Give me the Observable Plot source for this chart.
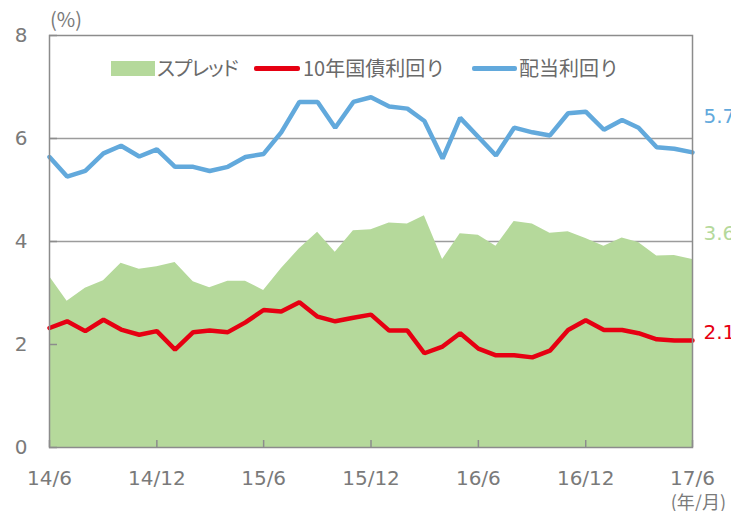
<!DOCTYPE html>
<html><head><meta charset="utf-8">
<script src="https://cdn.jsdelivr.net/npm/d3@7"></script>
<script src="https://cdn.jsdelivr.net/npm/@observablehq/plot@0.6"></script>
<style>
body{margin:0;background:#fff;}
#wrap{position:relative;width:731px;height:511px;overflow:hidden;}
.t{position:absolute;font-family:"Noto Sans CJK JP",sans-serif;font-size:20px;line-height:20px;color:#6a6a6a;white-space:nowrap;}
.sw{position:absolute;}
</style></head><body><div id="wrap"></div>
<script>
const startYear = 2014, startMonth = 6, monthCount = 37;
const dividendYield = [5.64,5.26,5.37,5.71,5.86,5.65,5.79,5.45,5.45,5.37,5.45,5.64,5.70,6.12,6.71,6.71,6.21,6.71,6.80,6.62,6.58,6.34,5.61,6.40,6.03,5.67,6.21,6.12,6.06,6.49,6.52,6.17,6.36,6.21,5.83,5.80,5.73];
const bondYield = [2.32,2.45,2.26,2.48,2.29,2.19,2.26,1.90,2.24,2.27,2.24,2.43,2.67,2.64,2.82,2.54,2.45,2.52,2.58,2.27,2.27,1.83,1.96,2.22,1.92,1.79,1.79,1.75,1.88,2.28,2.47,2.28,2.28,2.22,2.10,2.08,2.08];
const spread = [3.32,2.84,3.09,3.24,3.58,3.46,3.51,3.59,3.22,3.10,3.23,3.23,3.05,3.47,3.86,4.18,3.79,4.21,4.23,4.36,4.34,4.50,3.65,4.15,4.12,3.91,4.39,4.34,4.16,4.19,4.06,3.91,4.07,3.98,3.72,3.73,3.65];
const xTickLabels = ["14/6","14/12","15/6","15/12","16/6","16/12","17/6"];
const yTicks = [0,2,4,6,8];
const gridValues = [2,4,6];
const seriesNames = ["スプレッド","10年国債利回り","配当利回り"];
const seriesColors = ["#b5d99b","#e60012","#62a9dc"];
const endLabelTexts = ["3.6","2.1","5.7"];

const months = d3.range(monthCount).map(i => new Date(Date.UTC(startYear, startMonth - 1 + i, 1)));
const data = months.map((date, i) => ({date, div: dividendYield[i], bond: bondYield[i], spread: spread[i]}));
const tickDates = xTickLabels.map(s => { const [y, m] = s.split("/").map(Number); return new Date(Date.UTC(2000 + y, m - 1, 1)); });
const labelOf = new Map(tickDates.map((d, i) => [+d, xTickLabels[i]]));
const last = data[data.length - 1];
const endLabels = [
  {text: endLabelTexts[0], value: last.spread, color: seriesColors[0], dy: -26},
  {text: endLabelTexts[1], value: last.bond, color: seriesColors[1], dy: -8},
  {text: endLabelTexts[2], value: last.div, color: seriesColors[2], dy: -36}
];

const chart = Plot.plot({
  width: 731, height: 511,
  marginLeft: 49, marginRight: 39, marginTop: 35, marginBottom: 64,
  style: {fontFamily: "DejaVu Sans", fontSize: "20px", color: "#7a7a7a", background: "white", overflow: "visible"},
  x: {type: "utc", domain: [months[0], months[months.length - 1]]},
  y: {domain: [0, 8]},
  marks: [
    Plot.gridY(gridValues, {stroke: "#9c9c9c", strokeOpacity: 1, strokeWidth: 1.5}),
    Plot.areaY(data, {x: "date", y: "spread", fill: seriesColors[0], curve: "linear"}),
    Plot.line(data, {x: "date", y: "bond", stroke: seriesColors[1], strokeWidth: 4.5, strokeLinejoin: "miter"}),
    Plot.line(data, {x: "date", y: "div", stroke: seriesColors[2], strokeWidth: 4.5, strokeLinejoin: "miter"}),
    Plot.frame({stroke: "#8c8c8c", strokeWidth: 1.5}),
    Plot.axisY({ticks: yTicks, tickSize: -8, tickPadding: 30, stroke: "#8c8c8c", strokeWidth: 1.5, label: null, fill: "#7a7a7a"}),
    Plot.axisX({ticks: tickDates, tickSize: -7, tickPadding: 30, stroke: "#8c8c8c", strokeWidth: 1.5, label: null, fill: "#7a7a7a", tickFormat: d => labelOf.get(+d)}),
    ...endLabels.map(l => Plot.text([l], {x: () => months[months.length - 1], y: "value", text: "text", fill: l.color, dx: 11, dy: l.dy, textAnchor: "start", fontSize: 20}))
  ]
});
const wrap = document.getElementById("wrap");
wrap.appendChild(chart);

function add(cls, css, text) {
  const e = document.createElement("div");
  e.className = cls;
  Object.assign(e.style, css);
  if (text) e.textContent = text;
  wrap.appendChild(e);
}
add("sw", {left: "111px", top: "61px", width: "44px", height: "15px", background: seriesColors[0]});
add("t", {left: "157px", top: "58px", fontFeatureSettings: '"palt"', letterSpacing: "-1px"}, seriesNames[0]);
add("sw", {left: "254px", top: "66px", width: "46px", height: "4.5px", background: seriesColors[1], borderRadius: "2px"});
add("t", {left: "303px", top: "58px"}, seriesNames[1]);
add("sw", {left: "472px", top: "66px", width: "45px", height: "4.5px", background: seriesColors[2], borderRadius: "2px"});
add("t", {left: "519px", top: "58px"}, seriesNames[2]);
add("t", {left: "50px", top: "9px", fontSize: "20px", color: "#7a7a7a"}, "(%)");
add("t", {right: "5px", top: "492px", fontSize: "18px", lineHeight: "18px", color: "#7a7a7a"}, "(年/月)");
</script></body></html>
